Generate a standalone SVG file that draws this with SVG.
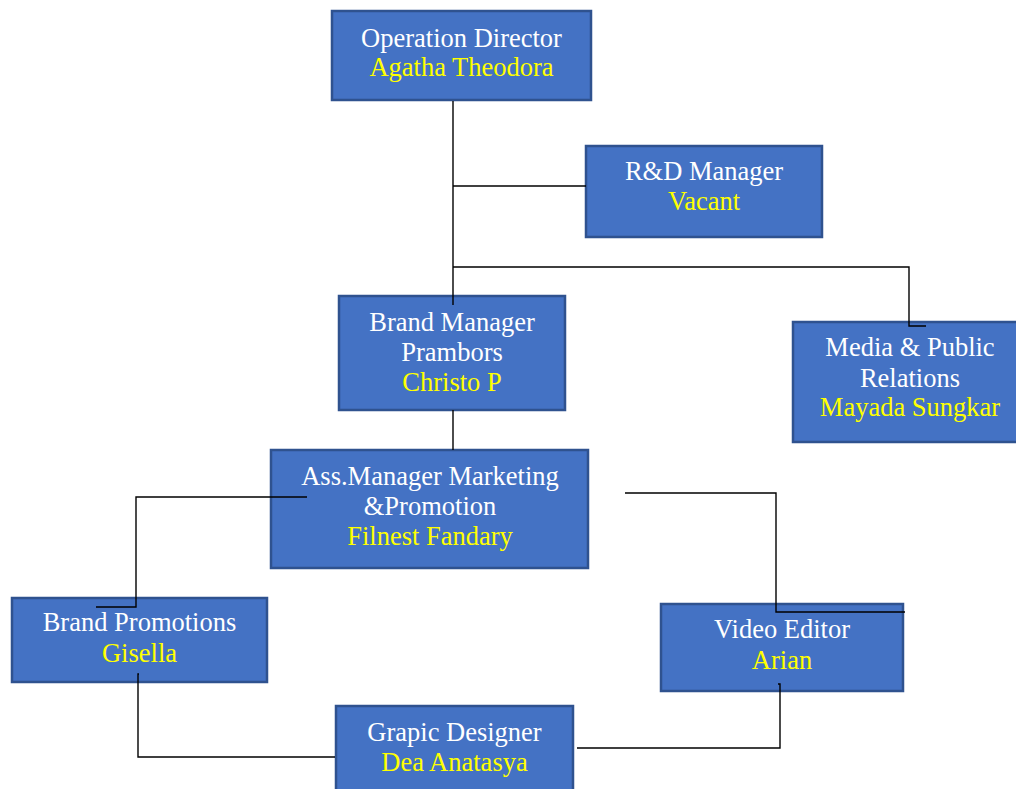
<svg xmlns="http://www.w3.org/2000/svg" width="1016" height="789" viewBox="0 0 1016 789">
<style>
.box{fill:#4472C4;stroke:#2F528F;stroke-width:2.5}
text{font-family:"Liberation Serif","Times New Roman",serif;font-size:26.5px;text-anchor:middle}
.t{fill:#FFFFFF}
.n{fill:#FFFF00}
.c{fill:none;stroke:#000000;stroke-width:1.4}
</style>
<rect width="1016" height="789" fill="#FFFFFF"/>
<g id="operation-director">
<rect class="box" x="332" y="11" width="259" height="89"/>
<text class="t" x="461.5" y="47">Operation Director</text>
<text class="n" x="461.5" y="76">Agatha Theodora</text>
</g>
<g id="rd-manager">
<rect class="box" x="586" y="146" width="236" height="91"/>
<text class="t" x="704" y="180">R&amp;D Manager</text>
<text class="n" x="704" y="210">Vacant</text>
</g>
<g id="brand-manager">
<rect class="box" x="339" y="296" width="226" height="114"/>
<text class="t" x="452" y="331">Brand Manager</text>
<text class="t" x="452" y="361">Prambors</text>
<text class="n" x="452" y="391">Christo P</text>
</g>
<g id="media-public-relations">
<rect class="box" x="793" y="322" width="233" height="120"/>
<text class="t" x="910" y="356">Media &amp; Public</text>
<text class="t" x="910" y="387">Relations</text>
<text class="n" x="910" y="416">Mayada Sungkar</text>
</g>
<g id="ass-manager">
<rect class="box" x="271" y="450" width="317" height="118"/>
<text class="t" x="430" y="485">Ass.Manager Marketing</text>
<text class="t" x="430" y="515">&amp;Promotion</text>
<text class="n" x="430" y="545">Filnest Fandary</text>
</g>
<g id="brand-promotions">
<rect class="box" x="12" y="598" width="255" height="84"/>
<text class="t" x="139.5" y="631">Brand Promotions</text>
<text class="n" x="139.5" y="662">Gisella</text>
</g>
<g id="video-editor">
<rect class="box" x="661" y="604" width="242" height="87"/>
<text class="t" x="782" y="638">Video Editor</text>
<text class="n" x="782" y="669">Arian</text>
</g>
<g id="graphic-designer">
<rect class="box" x="336" y="706" width="237" height="95"/>
<text class="t" x="454.5" y="741">Grapic Designer</text>
<text class="n" x="454.5" y="771">Dea Anatasya</text>
</g>
<g id="connectors">
<polyline class="c" points="453,101 453,305"/>
<polyline class="c" points="453,186 586,186"/>
<polyline class="c" points="453,267 909,267 909,326 926,326"/>
<polyline class="c" points="453,410 453,450"/>
<polyline class="c" points="307,497 136,497 136,607 96,607"/>
<polyline class="c" points="625,493 776,493 776,612 905,612"/>
<polyline class="c" points="139,674 138,674 138,757 335,757"/>
<polyline class="c" points="577,748 780,748 780,684 778,684"/>
</g>
</svg>
